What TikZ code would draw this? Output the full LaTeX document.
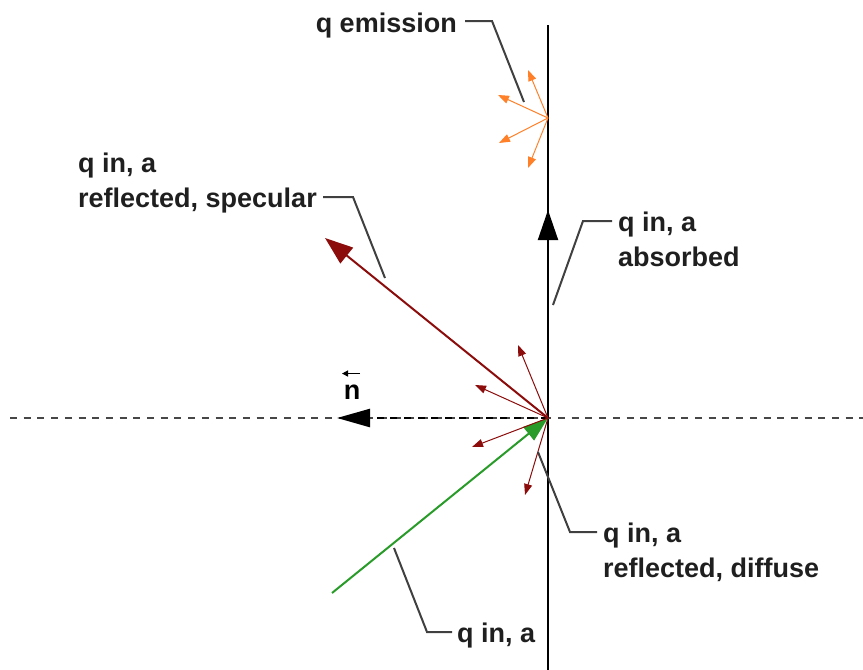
\documentclass[tikz,border=0pt]{standalone}
\usepackage{fontspec}
\setmainfont{Liberation Sans}
\usetikzlibrary{arrows.meta,calc}

\definecolor{specred}{RGB}{140,12,12}
\definecolor{ingreen}{RGB}{40,155,40}
\definecolor{emitorange}{RGB}{255,128,40}

\tikzset{
    lbl/.style={font=\fontsize{27}{32}\selectfont\bfseries, text=black!88, inner sep=0pt},
    leader/.style={line width=2pt, black!75},
    wallline/.style={line width=2pt, black},
    normline/.style={line width=2.2pt, black!72, dash pattern=on 7pt off 6.7pt},
    thinray/.style={line width=1pt, -{Triangle[length=11pt,width=8pt]}}
}

\begin{document}
\begin{tikzpicture}[x=1pt,y=-1pt]
\useasboundingbox (0,0) rectangle (863,670);

% Points
\coordinate (O) at (548,418);
\coordinate (E) at (548,118);
\coordinate (walltop) at (548,25);
\coordinate (wallbot) at (548,670);
\coordinate (normleft) at (10,418);
\coordinate (normright) at (863,418);

% Wall
\draw[wallline] (walltop) -- (wallbot);

% Surface normal line
\draw[normline] (normleft) -- (normright);

% Normal vector
\coordinate (ntip) at (337,418);
\draw[line width=2.5pt, black, dash pattern=on 7pt off 6.7pt,
      -{Triangle[length=33pt,width=18pt]}] (O) -- (ntip);
\node[lbl, text=black] (nlbl) at (352,392) {n};
\draw[line width=1.3pt, -{Triangle[length=6pt,width=6pt]}]
    ([xshift=8pt,yshift=11pt]nlbl.north) -- ([xshift=-10pt,yshift=11pt]nlbl.north);

% Absorbed
\coordinate (abstip) at (548,210);
\draw[line width=2pt, -{Triangle[length=30pt,width=20pt]}] (O) -- (abstip);

% Specular reflection
\coordinate (spectip) at (325,238);
\draw[line width=2pt, specred, -{Triangle[length=28pt,width=20pt]}] (O) -- (spectip);

% Incoming
\coordinate (instart) at (332,593);
\draw[line width=2pt, ingreen, -{Triangle[length=25pt,width=17pt]}] (instart) -- (O);

% Diffuse reflection
\foreach \p in {(518,345),(475,385),(472,447),(525,495)}
    \draw[thinray, specred] (O) -- \p;

% Emission
\foreach \p in {(528,70),(498,95),(499,143),(528,168)}
    \draw[thinray, emitorange] (E) -- \p;

% Labels and leaders
\coordinate (emitpt) at (524,102);
\node[lbl, anchor=base east] (emitlbl) at (457,32) {q emission};
\draw[leader] ([xshift=8pt,yshift=11pt]emitlbl.base east) -- ++(27,0) -- (emitpt);

\coordinate (specpt) at (385,278);
\node[lbl, anchor=base east] (speclblb) at (317,207) {reflected, specular};
\node[lbl, anchor=base west] (speclbla) at ([yshift=35pt]speclblb.base west) {q in, a};
\draw[leader] ([xshift=6pt,yshift=10pt]speclblb.base east) -- ++(30,0) -- (specpt);

\coordinate (abspt) at (553,305);
\node[lbl, anchor=base west] (abslbla) at (618,231) {q in, a};
\node[lbl, anchor=base west] (abslblb) at ([yshift=-35pt]abslbla.base west) {absorbed};
\draw[leader] ([xshift=-6pt,yshift=10pt]abslbla.base west) -- ++(-29,0) -- (abspt);

\coordinate (diffpt) at (538,452);
\node[lbl, anchor=base west] (difflbla) at (603,542) {q in, a};
\node[lbl, anchor=base west] (difflblb) at ([yshift=-35pt]difflbla.base west) {reflected, diffuse};
\draw[leader] ([xshift=-6pt,yshift=10pt]difflbla.base west) -- ++(-27,0) -- (diffpt);

\coordinate (inpt) at (394,548);
\node[lbl, anchor=base west] (inlbl) at (457,642) {q in, a};
\draw[leader] ([xshift=-5pt,yshift=10pt]inlbl.base west) -- ++(-25,0) -- (inpt);

\end{tikzpicture}
\end{document}
